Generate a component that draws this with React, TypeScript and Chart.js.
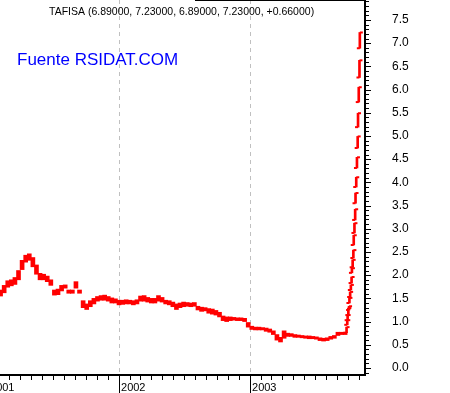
import React, { useEffect, useRef } from 'react';
import { Chart, registerables } from 'chart.js';

Chart.register(...registerables);

const TITLE = 'TAFISA (6.89000, 7.23000, 6.89000, 7.23000, +0.66000)';
const SOURCE = 'Fuente RSIDAT.COM';
const RED = '#ff0000';

// x axis: days since 2001-01-01
const YEAR_DAYS = [0, 365, 730];
const YEAR_LABELS = ['2001', '2002', '2003'];
const X_MIN = 33.4;
const X_MAX = 1050.4;

const Y_MIN = -0.13;
const Y_MAX = 7.93;
const Y_TICKS = [0, 0.5, 1, 1.5, 2, 2.5, 3, 3.5, 4, 4.5, 5, 5.5, 6, 6.5, 7, 7.5];

// price bars before the rally, one every 10 days from day 35
const DENSE_START_DAY = 35;
const DENSE_STEP_DAYS = 10;
const denseLow = [
  1.55, 1.62, 1.74, 1.77, 1.80, 1.90, 2.12, 2.28, 2.32, 2.18,
  2.02, 1.90, 1.90, 1.86, 1.78, 1.57, 1.58, 1.66, 1.72, 1.61,
  1.61, 1.72, 1.61, 1.30, 1.26, 1.32, 1.38, 1.44, 1.46, 1.46,
  1.44, 1.40, 1.40, 1.36, 1.37, 1.38, 1.38, 1.36, 1.38, 1.44,
  1.44, 1.42, 1.40, 1.40, 1.44, 1.42, 1.38, 1.36, 1.32, 1.26,
  1.30, 1.32, 1.33, 1.32, 1.33, 1.25, 1.22, 1.23, 1.18, 1.16,
  1.14, 1.10, 1.02, 1.00, 1.02, 1.03, 1.02, 1.02, 1.00, 0.88,
  0.83, 0.82, 0.82, 0.82, 0.79, 0.77, 0.72, 0.60, 0.56, 0.64,
  0.68, 0.68, 0.66, 0.66, 0.65, 0.64, 0.63, 0.63, 0.62, 0.59,
  0.58, 0.59, 0.62, 0.64, 0.70, 0.72, 0.72,
];
const denseHigh = [
  1.68, 1.78, 1.88, 1.90, 1.95, 2.10, 2.32, 2.43, 2.46, 2.38,
  2.22, 2.04, 2.02, 1.98, 1.90, 1.68, 1.70, 1.78, 1.79, 1.68,
  1.68, 1.86, 1.68, 1.45, 1.38, 1.45, 1.50, 1.54, 1.56, 1.57,
  1.54, 1.51, 1.49, 1.46, 1.46, 1.47, 1.46, 1.45, 1.47, 1.55,
  1.56, 1.52, 1.50, 1.50, 1.56, 1.52, 1.46, 1.45, 1.42, 1.38,
  1.40, 1.42, 1.41, 1.40, 1.41, 1.33, 1.31, 1.30, 1.28, 1.27,
  1.24, 1.20, 1.12, 1.10, 1.10, 1.09, 1.08, 1.08, 1.07, 0.98,
  0.90, 0.88, 0.88, 0.87, 0.86, 0.84, 0.80, 0.72, 0.66, 0.80,
  0.75, 0.74, 0.72, 0.71, 0.70, 0.69, 0.69, 0.68, 0.67, 0.65,
  0.64, 0.65, 0.68, 0.70, 0.77, 0.77, 0.77,
];

// daily OHLC bars of the final rally
const surgeDays = [999, 1001, 1002, 1004, 1006, 1007, 1009, 1011, 1013, 1014, 1016, 1018, 1019, 1021, 1023, 1024, 1026, 1028, 1030, 1031, 1033, 1035, 1036];
const surgeOpen = [0.76, 0.93, 1.03, 1.14, 1.25, 1.40, 1.53, 1.68, 1.83, 2.05, 2.17, 2.37, 2.65, 2.91, 3.19, 3.55, 3.90, 4.31, 4.74, 5.19, 5.73, 6.26, 6.89];
const surgeLow = [0.76, 0.93, 1.03, 1.14, 1.25, 1.40, 1.53, 1.68, 1.83, 2.05, 2.17, 2.37, 2.65, 2.91, 3.19, 3.55, 3.90, 4.31, 4.74, 5.19, 5.73, 6.26, 6.89];
const surgeHigh = [0.88, 1.03, 1.14, 1.29, 1.33, 1.51, 1.64, 1.79, 1.96, 2.15, 2.33, 2.54, 2.86, 3.12, 3.42, 3.77, 4.11, 4.54, 4.99, 5.49, 6.05, 6.63, 7.23];
const surgeClose = [0.88, 1.03, 1.14, 1.29, 1.33, 1.51, 1.64, 1.79, 1.96, 2.15, 2.33, 2.54, 2.86, 3.12, 3.42, 3.77, 4.11, 4.54, 4.99, 5.49, 6.05, 6.63, 7.23];

const DAY_MS = 86400000;
const monthStartDays: number[] = [];
for (let y = 2001; y <= 2003; y++) {
  for (let m = 0; m < 12; m++) {
    monthStartDays.push((Date.UTC(y, m, 1) - Date.UTC(2001, 0, 1)) / DAY_MS);
  }
}

const zeroPadding = (s: any) => {
  s.paddingLeft = 0;
  s.paddingRight = 0;
  s.paddingTop = 0;
  s.paddingBottom = 0;
};

const decorPlugin = {
  id: 'decor',
  beforeDatasetsDraw(chart: any) {
    const { ctx, chartArea, scales } = chart;
    const xs = scales.x;
    ctx.save();
    ctx.strokeStyle = '#c0c0c0';
    ctx.lineWidth = 1;
    ctx.setLineDash([4, 4]);
    YEAR_DAYS.forEach((d) => {
      const px = Math.round(xs.getPixelForValue(d));
      if (px <= chartArea.left || px >= chartArea.right) return;
      ctx.beginPath();
      ctx.moveTo(px + 0.5, chartArea.top);
      ctx.lineTo(px + 0.5, chartArea.bottom);
      ctx.stroke();
    });
    ctx.restore();
  },
  afterDraw(chart: any) {
    const { ctx, chartArea, scales } = chart;
    const xs = scales.x;
    const ys = scales.y;
    const right = chartArea.right;
    const bottom = chartArea.bottom;
    ctx.save();
    ctx.fillStyle = '#000';
    // axes lines
    ctx.fillRect(chartArea.left, bottom, right - chartArea.left + 1, 2);
    ctx.fillRect(right - 1, chartArea.top, 2, bottom - chartArea.top + 2);
    ctx.fillRect(195, 0, right - 195, 1);
    // y ticks every 0.1
    for (let k = -1; k <= 79; k++) {
      const v = k / 10;
      const py = Math.round(ys.getPixelForValue(v));
      if (py < chartArea.top || py > bottom) continue;
      const major = k % 5 === 0;
      ctx.fillRect(right + 1, py, major ? 5 : 3, 1);
    }
    // x ticks at month starts, long ticks at year starts
    monthStartDays.forEach((d) => {
      const px = Math.round(xs.getPixelForValue(d));
      if (px < chartArea.left || px > right) return;
      const isYear = YEAR_DAYS.indexOf(d) >= 0;
      ctx.fillRect(px, bottom + 2, 1, isYear ? 19 : 4);
    });
    // texts
    ctx.textAlign = 'left';
    ctx.textBaseline = 'alphabetic';
    ctx.fillStyle = '#000';
    ctx.font = '10.5px "Liberation Sans", Arial, sans-serif';
    ctx.fillText(TITLE, 49, 15);
    ctx.fillStyle = '#0000ff';
    ctx.font = '17px "Liberation Sans", Arial, sans-serif';
    ctx.fillText(SOURCE, 17, 64.5);
    ctx.restore();
  },
};

export default function App() {
  const ref = useRef<HTMLCanvasElement | null>(null);

  useEffect(() => {
    document.body.style.margin = '0';
    if (!ref.current) return;
    const denseData = denseLow.map((lo, i) => ({
      x: DENSE_START_DAY + DENSE_STEP_DAYS * i,
      y: [lo, denseHigh[i]],
    }));
    const surgeData = surgeDays.map((d, i) => ({ x: d, y: [surgeLow[i], surgeHigh[i]] }));
    const openData = surgeDays.map((d, i) => ({ x: d, y: surgeOpen[i] }));
    const closeData = surgeDays.map((d, i) => ({ x: d, y: surgeClose[i] }));

    const chart = new Chart(ref.current, {
      type: 'bar',
      data: {
        datasets: [
          {
            type: 'bar',
            data: denseData as any,
            backgroundColor: RED,
            borderWidth: 0,
            barThickness: 4,
            grouped: false,
          } as any,
          {
            type: 'bar',
            data: surgeData as any,
            backgroundColor: RED,
            borderWidth: 0,
            barThickness: 2,
            grouped: false,
          } as any,
          {
            type: 'line',
            data: openData as any,
            showLine: false,
            pointStyle: 'dash',
            pointRadius: 3,
            pointBorderWidth: 2,
            pointBorderColor: RED,
            pointBackgroundColor: RED,
            pointRotation: 180,
          } as any,
          {
            type: 'line',
            data: closeData as any,
            showLine: false,
            pointStyle: 'dash',
            pointRadius: 3,
            pointBorderWidth: 2,
            pointBorderColor: RED,
            pointBackgroundColor: RED,
            pointRotation: 0,
          } as any,
        ],
      },
      options: {
        animation: false,
        responsive: false,
        events: [],
        layout: { padding: 0, autoPadding: false },
        plugins: {
          legend: { display: false },
          tooltip: { enabled: false },
          title: { display: false },
        },
        scales: {
          x: {
            type: 'linear',
            min: X_MIN,
            max: X_MAX,
            offset: false,
            grid: { display: false, drawTicks: false },
            border: { display: false },
            afterBuildTicks: (s: any) => {
              s.ticks = YEAR_DAYS.map((v) => ({ value: v }));
            },
            afterFit: (s: any) => {
              s.height = 19;
              zeroPadding(s);
            },
            ticks: {
              autoSkip: false,
              maxRotation: 0,
              minRotation: 0,
              align: 'start',
              labelOffset: 2,
              padding: 7,
              color: '#000',
              font: { family: '"Liberation Sans", Arial, sans-serif', size: 11 },
              callback: (v: any) => {
                const i = YEAR_DAYS.indexOf(Number(v));
                return i >= 0 ? YEAR_LABELS[i] : '';
              },
            },
          } as any,
          y: {
            type: 'linear',
            position: 'right',
            min: Y_MIN,
            max: Y_MAX,
            grid: { display: false, drawTicks: false },
            border: { display: false },
            afterBuildTicks: (s: any) => {
              s.ticks = Y_TICKS.map((v) => ({ value: v }));
            },
            afterFit: (s: any) => {
              s.width = 85;
              zeroPadding(s);
            },
            ticks: {
              padding: 27,
              color: '#000',
              font: { family: '"Liberation Sans", Arial, sans-serif', size: 12 },
              callback: (v: any) => Number(v).toFixed(1),
            },
          } as any,
        },
      },
      plugins: [decorPlugin],
    });
    return () => chart.destroy();
  }, []);

  return (
    <div style={{ position: 'absolute', left: 0, top: 0, width: 450, height: 393 }}>
      <canvas ref={ref} width={450} height={393} style={{ display: 'block' }} />
    </div>
  );
}
